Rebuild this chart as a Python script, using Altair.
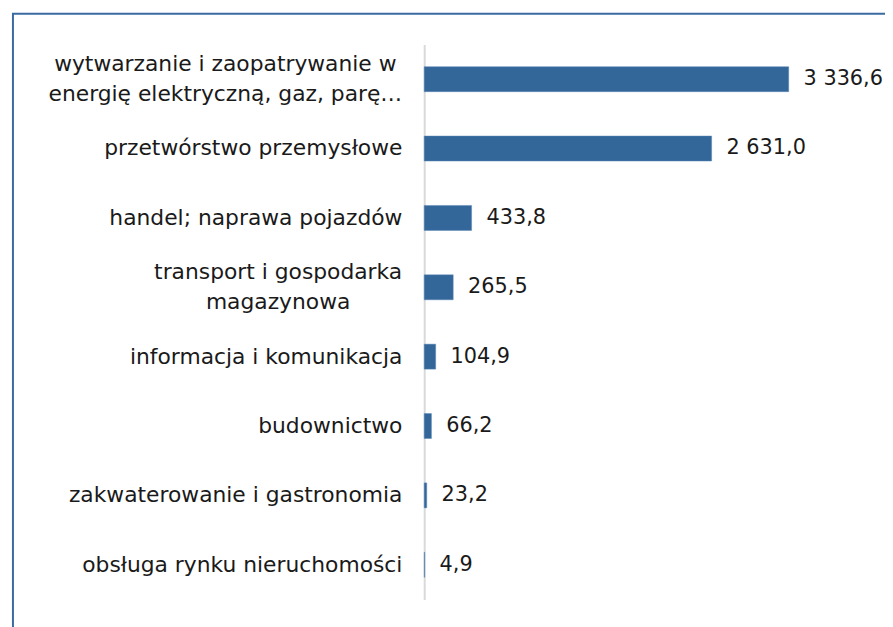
import altair as alt
import pandas as pd

categories = [
    "wytwarzanie i zaopatrywanie w|energię elektryczną, gaz, parę…",
    "przetwórstwo przemysłowe",
    "handel; naprawa pojazdów",
    "transport i gospodarka|magazynowa",
    "informacja i komunikacja",
    "budownictwo",
    "zakwaterowanie i gastronomia",
    "obsługa rynku nieruchomości",
]
values = [3336.6, 2631.0, 433.8, 265.5, 104.9, 66.2, 23.2, 4.9]

FONT = "DejaVu Sans"
CAT_SIZE = 22
VAL_SIZE = 21
BAR = "#336699"
FRAME = "#3a6aa0"
TXT = "#1a1a1a"
W, H = 463, 560
PL, PT = 420, 34
LABEL_GAP = 22
LINE_H = 30

# approximate DejaVu Sans advance widths (em) for centring two-line labels
_CW = {" ": .318, ",": .318, ";": .337, "…": 1.0, ".": .318,
       "a": .613, "ą": .613, "b": .635, "c": .55, "ć": .55, "d": .635, "e": .615,
       "ę": .615, "f": .352, "g": .635, "h": .634, "i": .278, "j": .278, "k": .579,
       "l": .278, "ł": .29, "m": .974, "n": .634, "ń": .634, "o": .612, "ó": .612,
       "p": .635, "r": .411, "s": .521, "ś": .521, "t": .392, "u": .634, "w": .818,
       "y": .592, "z": .525, "ż": .525, "ź": .525}


def text_w(s, size):
    return sum(_CW.get(ch, .6) for ch in s) * size


def fmt(v):
    return f"{v:,.1f}".replace(",", " ").replace(".", ",")


rows = []
for c, v in zip(categories, values):
    parts = c.split("|")
    rows.append({"cat": c, "val": v, "lbl": fmt(v),
                 "l1": parts[0], "l2": parts[1] if len(parts) > 1 else "",
                 "half": max(text_w(p, CAT_SIZE) for p in parts) / 2})
df = pd.DataFrame(rows)

y_enc = alt.Y(
    "cat:N",
    sort=None,
    title=None,
    scale=alt.Scale(paddingInner=0.64, paddingOuter=0.32),
    axis=alt.Axis(labels=False, ticks=False, domainColor="#d9d9d9", domainWidth=2, grid=False),
)
x_enc = alt.X("val:Q", title=None, scale=alt.Scale(domain=[0, 4200]), axis=None)

bars = alt.Chart(df).mark_bar(color=BAR, stroke="#5b86b5", strokeWidth=0.5).encode(x=x_enc, y=y_enc)
values_txt = alt.Chart(df).mark_text(
    align="left", baseline="middle", dx=15, font=FONT, fontSize=VAL_SIZE, color=TXT
).encode(x=x_enc, y=y_enc, text="lbl:N")

base_lbl = alt.Chart(df).transform_calculate(cx=f"-{LABEL_GAP} - datum.half")
single = base_lbl.transform_filter("datum.l2 == ''").mark_text(
    align="right", baseline="middle", font=FONT, fontSize=CAT_SIZE, color=TXT
).encode(x=alt.value(-LABEL_GAP), y=y_enc, text="l1:N")
line1 = base_lbl.transform_filter("datum.l2 != ''").mark_text(
    align="center", baseline="middle", dy=-LINE_H / 2, font=FONT, fontSize=CAT_SIZE, color=TXT
).encode(x=alt.X("cx:Q", scale=None), y=y_enc, text="l1:N")
line2 = base_lbl.transform_filter("datum.l2 != ''").mark_text(
    align="center", baseline="middle", dy=LINE_H / 2, font=FONT, fontSize=CAT_SIZE, color=TXT
).encode(x=alt.X("cx:Q", scale=None), y=y_enc, text="l2:N")

frame_df = pd.DataFrame({"a": [0]})
left_line = alt.Chart(frame_df).mark_rule(color=FRAME, strokeWidth=2, clip=False).encode(
    x=alt.value(-415), y=alt.value(-31), y2=alt.value(700)
)
top_line = alt.Chart(frame_df).mark_rule(color=FRAME, strokeWidth=2, clip=False).encode(
    x=alt.value(-416), x2=alt.value(600), y=alt.value(-31)
)

chart = (
    alt.layer(left_line, top_line, bars, values_txt, single, line1, line2)
    .properties(
        width=W,
        height=H,
        autosize=alt.AutoSizeParams(type="none"),
        padding={"left": PL, "top": PT, "right": 2, "bottom": 25},
        background="white",
    )
    .configure_view(stroke=None)
)

chart.save("out.html", embed_options={"renderer": "svg", "actions": False})
